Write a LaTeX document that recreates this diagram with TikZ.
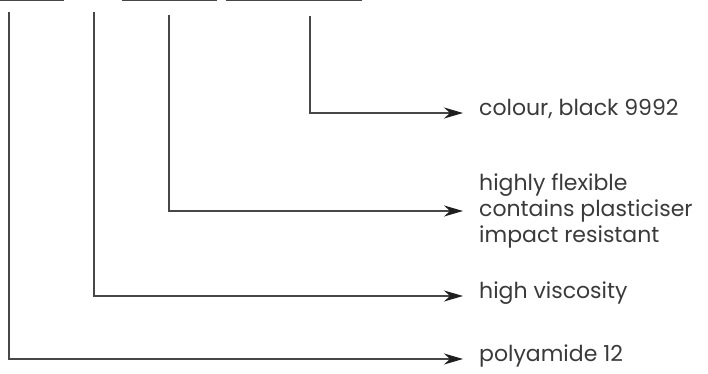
\documentclass[tikz,border=0pt]{standalone}
\usepackage{fontspec}
\setmainfont{Poppins}
\usetikzlibrary{arrows.meta}
\definecolor{txt}{HTML}{3A3A3A}
\definecolor{ln}{HTML}{474747}
\definecolor{tip}{HTML}{1E1E1E}
\tikzset{
  lbl/.style={anchor=west, inner sep=0pt, text=txt, font=\fontsize{22}{26}\selectfont, text height=1ex, text depth=0pt},
  mlbl/.style={anchor=west, inner sep=0pt, text=txt, font=\fontsize{22}{26}\selectfont, align=left},
  conn/.style={draw=ln, line width=1.4pt, shorten >=16pt, -{Stealth[length=19pt,width=11pt,inset=6pt,fill=tip,color=tip]}},
  bar/.style={draw=ln, line width=2.6pt}
}
\begin{document}
\begin{tikzpicture}[x=1pt,y=-1pt]
\useasboundingbox (0,0) rectangle (708,374);
% top bars
\coordinate (b1s) at (0,0); \coordinate (b1e) at (64,0);
\coordinate (b2s) at (122,0); \coordinate (b2e) at (217,0);
\coordinate (b3s) at (226,0); \coordinate (b3e) at (362,0);
\draw[bar] (b1s) -- (b1e);
\draw[bar] (b2s) -- (b2e);
\draw[bar] (b3s) -- (b3e);
% start points
\coordinate (s1) at (9,12);
\coordinate (s2) at (94,12);
\coordinate (s3) at (169,15);
\coordinate (s4) at (310,16);
% labels
\node[lbl] (t4) at (479,113) {colour, black 9992};
\node[mlbl] (t3) at (479,211) {highly flexible\\contains plasticiser\\impact resistant};
\node[lbl] (t2) at (479,296) {high viscosity};
\node[lbl] (t1) at (479,359) {polyamide 12};
% connectors
\draw[conn] (s4) |- (t4.west);
\draw[conn] (s3) |- (t3.west);
\draw[conn] (s2) |- (t2.west);
\draw[conn] (s1) |- (t1.west);
\end{tikzpicture}
\end{document}
